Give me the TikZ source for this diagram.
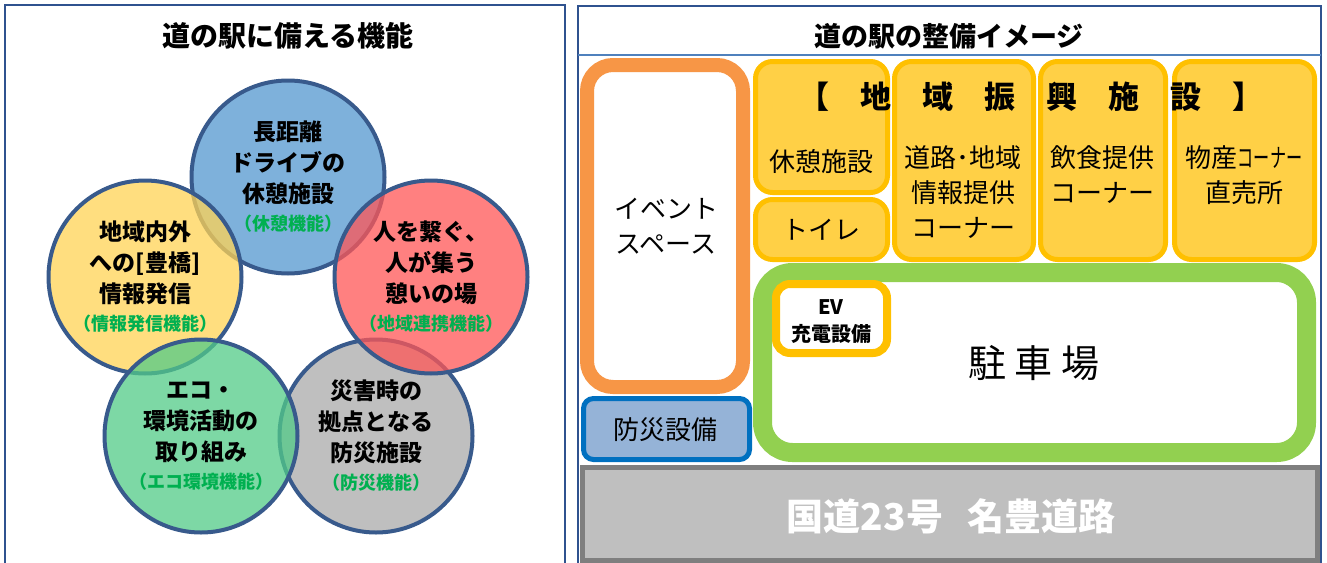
\documentclass[tikz,border=0pt]{standalone}
\usepackage{fontspec}
\setmainfont{Noto Sans CJK JP}
\definecolor{frameblue}{RGB}{47,82,143}
\definecolor{headline}{RGB}{79,129,189}
\definecolor{ringedge}{RGB}{56,90,140}
\definecolor{ringblue}{RGB}{84,152,208}
\definecolor{ringyellow}{RGB}{255,211,85}
\definecolor{ringred}{RGB}{255,86,86}
\definecolor{ringgreen}{RGB}{82,203,136}
\definecolor{ringgray}{RGB}{170,170,170}
\definecolor{subgreen}{RGB}{0,176,80}
\definecolor{evorange}{RGB}{247,150,70}
\definecolor{bosaiblue}{RGB}{0,112,192}
\definecolor{bosaifill}{RGB}{149,179,215}
\definecolor{shinkoedge}{RGB}{255,192,0}
\definecolor{shinkofill}{RGB}{255,208,70}
\definecolor{parkgreen}{RGB}{146,208,80}
\definecolor{roadedge}{RGB}{127,127,127}
\definecolor{roadfill}{RGB}{191,191,191}
\newcommand{\subtx}[1]{{\color{subgreen}\fontsize{18}{20}\selectfont #1}}
\newcommand{\narrowkana}[1]{\scalebox{0.62}[1]{#1}}
\begin{document}
\begin{tikzpicture}[x=1pt,y=-1pt,
    ring/.style={circle,draw=ringedge,line width=4pt,minimum size=193pt,
        fill opacity=.75,text opacity=1,align=center,
        font=\bfseries\fontsize{23}{31}\selectfont},
    shinko/.style={draw=shinkoedge,fill=shinkofill,line width=5pt,rounded corners=17pt},
    facil/.style={align=center,font=\fontsize{26}{35}\selectfont},
    title/.style={font=\bfseries\fontsize{27}{30}\selectfont}]
\useasboundingbox (0,0) rectangle (1327,562);
\fill[white] (0,0) rectangle (1327,562);
\draw[frameblue,line width=2.5pt] (5,5) rectangle (565,575);
\node[title,font=\bfseries\fontsize{28}{30}\selectfont] (lefttitle) at (288,36) {道の駅に備える機能};
\node[ring,fill=ringblue] (kyukei) at (288,177)
    {長距離\\ドライブの\\休憩施設\\[-3pt]\subtx{（休憩機能）}};
\node[ring,fill=ringgray] (bosai) at (376,436)
    {災害時の\\拠点となる\\防災施設\\[-3pt]\subtx{（防災機能）}};
\node[ring,fill=ringred] (renkei) at (431,277)
    {人を繋ぐ、\\人が集う\\憩いの場\\[-3pt]\subtx{（地域連携機能）}};
\node[ring,fill=ringyellow] (joho) at (145,277)
    {地域内外\\への[豊橋]\\情報発信\\[-3pt]\subtx{（情報発信機能）}};
\node[ring,fill=ringgreen] (eco) at (201,436)
    {エコ・\\環境活動の\\取り組み\\[-3pt]\subtx{（エコ環境機能）}};
\draw[frameblue,line width=2pt] (578,6) rectangle (1321,575);
\draw[headline,line width=1.5pt] (578,55) -- (1321,55);
\node[title] (righttitle) at (949,36) {道の駅の整備イメージ};
\draw[evorange,fill=white,line width=14pt,rounded corners=26pt] (587,65) rectangle (743,387);
\node[facil] (event) at (666,226) {イベント\\スペース};
\draw[bosaiblue,fill=bosaifill,line width=5pt,rounded corners=10pt] (583.5,398.5) rectangle (749.5,459.5);
\node[facil] (bosaisetsubi) at (665,430) {防災設備};
\draw[shinko] (755.5,61.5) rectangle (887.5,192.5);
\draw[shinko] (755.5,199.5) rectangle (887.5,259.5);
\draw[shinko] (894.5,61.5) rectangle (1033.5,259.5);
\draw[shinko] (1040.5,61.5) rectangle (1165.5,259.5);
\draw[shinko] (1174.5,61.5) rectangle (1314.5,259.5);
\node[font=\bfseries\fontsize{31}{34}\selectfont] (shinko) at (1031,97) {【　地　域　振　興　施　設　】};
\node[facil] (kyukeishisetsu) at (821,162) {休憩施設};
\node[facil] (toilet) at (821,230) {トイレ};
\node[facil,anchor=north] (michijoho) at (963,142) {道路･地域\\情報提供\\コーナー};
\node[facil,anchor=north] (inshoku) at (1102,142) {飲食提供\\コーナー};
\node[facil,anchor=north] (bussan) at (1244,142) {物産\narrowkana{コーナー}\\直売所};
\draw[parkgreen,fill=white,line width=19pt,rounded corners=30pt] (762.5,272.5) rectangle (1306.5,452.5);
\draw[shinkoedge,fill=white,line width=8pt,rounded corners=14pt] (776,284) rectangle (887,353);
\node[align=center,font=\bfseries\fontsize{20}{27}\selectfont] (ev) at (831,322) {EV\\充電設備};
\node[font=\fontsize{38}{40}\selectfont] (parking) at (1034,363) {駐 車 場};
\draw[roadedge,fill=roadfill,line width=5pt] (582.5,467.5) rectangle (1317.5,560);
\node[text=white,font=\bfseries\fontsize{37}{40}\selectfont] (road) at (951,516) {国道23号\hspace{24pt}名豊道路};
\end{tikzpicture}
\end{document}
